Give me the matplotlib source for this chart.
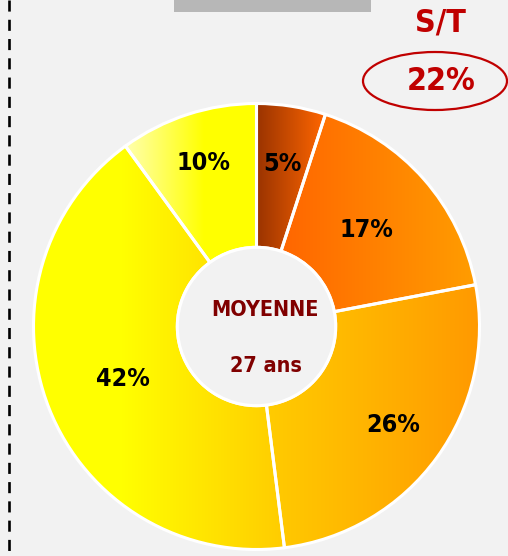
import numpy as np
from matplotlib import pyplot as plt
from matplotlib.colors import LinearSegmentedColormap
from matplotlib.patches import Circle, Ellipse, Rectangle

# data
shares = [5, 17, 26, 42, 10]
labels = ["5%", "17%", "26%", "42%", "10%"]
center_title = "MOYENNE"
center_value = "27 ans"
st_label = "S/T"
st_value = "22%"

# horizontal gradients (left -> right) for each wedge
gradients = [
    [(0.0, "#993300"), (1.0, "#ff6600")],
    [(0.0, "#ff6600"), (1.0, "#ff9d00")],
    [(0.0, "#ffcc00"), (1.0, "#ff9900")],
    [(0.0, "#ffff00"), (0.35, "#ffff00"), (1.0, "#ffcc00")],
    [(0.0, "#ffffb0"), (0.6, "#ffff00"), (1.0, "#ffff00")],
]
label_dist = [0.74, 0.655, 0.755, 0.645, 0.77]

BG = "#f2f2f2"
W, H = 508, 556
font = dict(family="DejaVu Sans", fontstretch="condensed", fontweight="bold")

fig = plt.figure(figsize=(W / 100, H / 100), dpi=100, facecolor=BG)

# background / decoration axes in pixel units
ax0 = fig.add_axes([0, 0, 1, 1])
ax0.set_xlim(0, W)
ax0.set_ylim(H, 0)
ax0.axis("off")
ax0.plot([9, 9], [0, H], color="black", lw=1.9, linestyle=(0, (4.2, 3.1)))
ax0.add_patch(Rectangle((174, -2), 197, 14, facecolor="#b7b7b7", edgecolor="none"))
ax0.text(440, 23, st_label, color="#c00000", fontsize=23, ha="center", va="center", **font)
ax0.add_patch(Ellipse((435, 81), 144, 58, facecolor="none", edgecolor="#c00000", lw=1.6))
ax0.text(441, 82, st_value, color="#c00000", fontsize=23, ha="center", va="center", **font)

# donut
cx, cy, R = 256.5, 326.5, 223
pad = 1.03
half = R * pad
ax = fig.add_axes([(cx - half) / W, (H - cy - half) / H, 2 * half / W, 2 * half / H])
ax.axis("off")
hole = 0.355
wedges, _ = ax.pie(shares, startangle=90, counterclock=False, radius=1,
                   wedgeprops=dict(width=1 - hole, edgecolor="white", linewidth=2.2))
ax.set_xlim(-pad, pad)
ax.set_ylim(-pad, pad)
ax.set_aspect("equal")

for w, stops, lab, d in zip(wedges, gradients, labels, label_dist):
    ext = w.get_path().get_extents()
    cmap = LinearSegmentedColormap.from_list("g", stops)
    grad = np.linspace(0, 1, 256).reshape(1, -1)
    im = ax.imshow(grad, cmap=cmap, extent=(ext.x0, ext.x1, ext.y0, ext.y1),
                   aspect="auto", zorder=1, interpolation="bilinear")
    im.set_clip_path(w)
    w.set_facecolor("none")
    w.set_zorder(2)
    ang = np.deg2rad((w.theta1 + w.theta2) / 2)
    ax.text(d * np.cos(ang), d * np.sin(ang), lab, fontsize=18, color="black",
            ha="center", va="center", zorder=4, **font)

ax.add_patch(Circle((0, 0), hole, facecolor=BG, edgecolor="white", lw=2.2, zorder=3))
ax.text(0.038, 0.073, center_title, color="#800000", fontsize=15.5,
        ha="center", va="center", zorder=4, **font)
ax.text(0.043, -0.175, center_value, color="#800000", fontsize=15.5,
        ha="center", va="center", zorder=4, **font)
ax.set_xlim(-pad, pad)
ax.set_ylim(-pad, pad)

fig.savefig("out.png", dpi=100, facecolor=BG)
